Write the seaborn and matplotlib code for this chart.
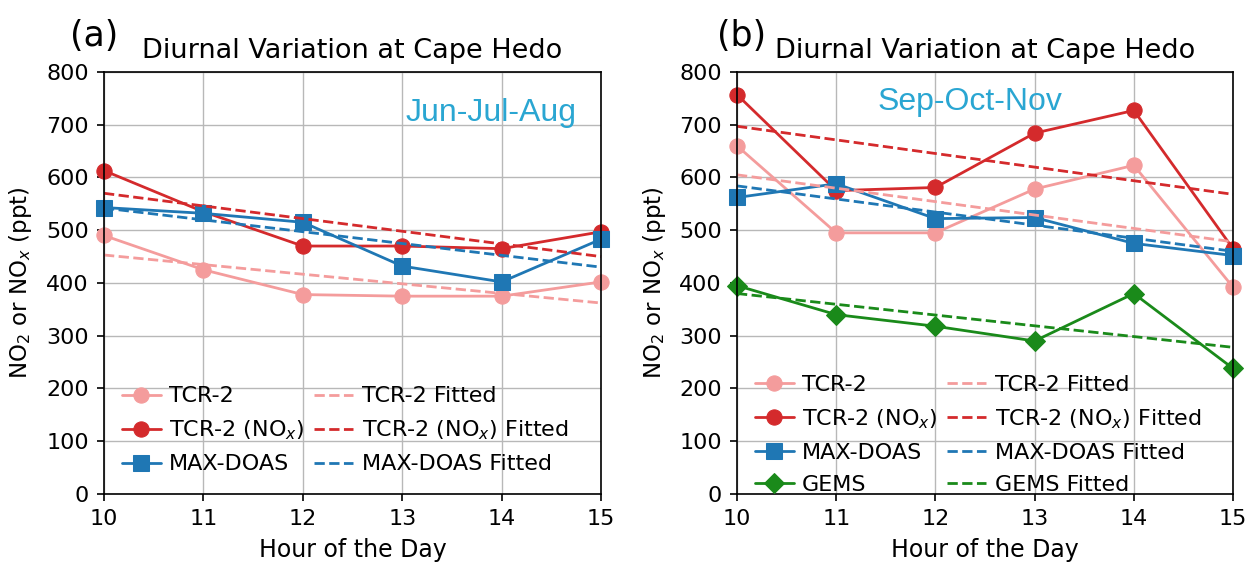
import matplotlib
matplotlib.use("Agg")
import matplotlib.pyplot as plt
import seaborn as sns
import pandas as pd

hours = [10, 11, 12, 13, 14, 15]
fit_hours = [10, 15]

# Panel (a) Jun-Jul-Aug
a_tcr2 = [490, 425, 378, 375, 375, 402]
a_tcr2_nox = [613, 535, 470, 470, 465, 497]
a_maxdoas = [543, 532, 515, 432, 402, 483]
a_tcr2_fit = [453, 362]
a_tcr2_nox_fit = [570, 450]
a_maxdoas_fit = [542, 430]

# Panel (b) Sep-Oct-Nov
b_tcr2 = [660, 495, 495, 578, 623, 392]
b_tcr2_nox = [757, 575, 581, 684, 727, 465]
b_maxdoas = [562, 588, 522, 524, 475, 452]
b_gems = [395, 340, 318, 290, 380, 238]
b_tcr2_fit = [605, 478]
b_tcr2_nox_fit = [697, 568]
b_maxdoas_fit = [584, 460]
b_gems_fit = [380, 278]

yticks = [0, 100, 200, 300, 400, 500, 600, 700, 800]

sns.set_theme(style="whitegrid")
plt.rcParams['font.family'] = ['DejaVu Sans']
plt.rcParams['mathtext.fontset'] = 'dejavusans'
for k in ['text.color', 'axes.labelcolor', 'xtick.color', 'ytick.color']:
    plt.rcParams[k] = 'black'

C_TCR = '#f49c9c'
C_NOX = '#d42a2c'
C_MAX = '#1f77b4'
C_GEMS = '#1a8a1a'

fig = plt.figure(figsize=(12.47, 5.62), dpi=100)
axa = fig.add_axes([0.0834, 0.121, 0.3986, 0.751])
axb = fig.add_axes([0.591, 0.121, 0.3978, 0.751])

TICK_FS = 16
LEG_FS = 16


def draw(ax, series, fits, season, season_xy, leg_top):
    for (name, vals, color, marker, ms) in series:
        df = pd.DataFrame({'h': hours, 'v': vals})
        sns.lineplot(data=df, x='h', y='v', ax=ax, color=color, marker=marker,
                     markersize=ms, markeredgecolor=color, linewidth=2, label=name)
    for (name, vals, color) in fits:
        df = pd.DataFrame({'h': fit_hours, 'v': vals})
        sns.lineplot(data=df, x='h', y='v', ax=ax, color=color, linestyle='--',
                     linewidth=2, label=name)
    ax.set_xlim(10, 15)
    ax.set_ylim(0, 800)
    ax.set_yticks(yticks)
    ax.set_xticks(hours)
    ax.tick_params(axis='both', labelsize=TICK_FS, length=5, width=1.2, color='black',
                   direction='out', bottom=True, left=True, pad=6)
    for s in ax.spines.values():
        s.set_color('black')
        s.set_linewidth(1.2)
    ax.grid(True, color='#b8b8b8', linewidth=1.0)
    ax.set_xlabel('Hour of the Day', fontsize=17, labelpad=6)
    ax.set_ylabel('NO$_2$ or NO$_x$ (ppt)', fontsize=16.5)
    ax.yaxis.set_label_coords(-0.14, 0.5)
    ax.set_title('Diurnal Variation at Cape Hedo', fontsize=19.5, pad=10)
    ax.text(season_xy[0], season_xy[1], season, transform=ax.transAxes,
            fontsize=23, color='#2aa6d2', family='Liberation Sans',
            ha='center', va='center')
    h, l = ax.get_legend_handles_labels()
    ax.legend(h, l, ncol=2, loc='upper left', frameon=False, fontsize=LEG_FS,
              bbox_to_anchor=(0.036, leg_top), handlelength=1.75, handletextpad=0.37,
              columnspacing=0.45, labelspacing=0.55, borderpad=0, borderaxespad=0)


draw(axa,
     [('TCR-2', a_tcr2, C_TCR, 'o', 11),
      ('TCR-2 (NO$_x$)', a_tcr2_nox, C_NOX, 'o', 11),
      ('MAX-DOAS', a_maxdoas, C_MAX, 's', 11)],
     [('TCR-2 Fitted', a_tcr2_fit, C_TCR),
      ('TCR-2 (NO$_x$) Fitted', a_tcr2_nox_fit, C_NOX),
      ('MAX-DOAS Fitted', a_maxdoas_fit, C_MAX)],
     'Jun-Jul-Aug', (0.779, 0.903), 0.255)

draw(axb,
     [('TCR-2', b_tcr2, C_TCR, 'o', 11),
      ('TCR-2 (NO$_x$)', b_tcr2_nox, C_NOX, 'o', 11),
      ('MAX-DOAS', b_maxdoas, C_MAX, 's', 11),
      ('GEMS', b_gems, C_GEMS, 'D', 10)],
     [('TCR-2 Fitted', b_tcr2_fit, C_TCR),
      ('TCR-2 (NO$_x$) Fitted', b_tcr2_nox_fit, C_NOX),
      ('MAX-DOAS Fitted', b_maxdoas_fit, C_MAX),
      ('GEMS Fitted', b_gems_fit, C_GEMS)],
     'Sep-Oct-Nov', (0.47, 0.929), 0.282)

for ax in (axa, axb):
    for line in ax.get_lines():
        line.set_clip_on(False)

fig.text(94 / 1247, 1 - 36 / 562, '(a)', fontsize=25, color='black',
         ha='center', va='center')
fig.text(742 / 1247, 1 - 36 / 562, '(b)', fontsize=25, color='black',
         ha='center', va='center')

fig.savefig('out.png', dpi=100)
